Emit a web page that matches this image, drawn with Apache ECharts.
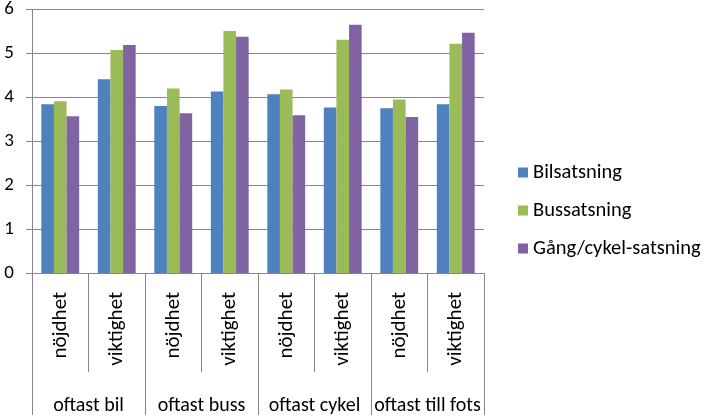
<!DOCTYPE html>
<html>
<head>
<meta charset="utf-8">
<script src="https://cdn.jsdelivr.net/npm/echarts@6/dist/echarts.min.js"></script>
<style>
  html, body { margin: 0; padding: 0; background: #fff; }
  #chart-container { width: 708px; height: 416px; }
</style>
</head>
<body>
<div id="chart-container"></div>
<script>
var subCategories = ["nöjdhet", "viktighet", "nöjdhet", "viktighet", "nöjdhet", "viktighet", "nöjdhet", "viktighet"];
var groups = ["oftast bil", "oftast buss", "oftast cykel", "oftast till fots"];
var seriesNames = ["Bilsatsning", "Bussatsning", "Gång/cykel-satsning"];
var bilsatsning = [3.84, 4.41, 3.80, 4.13, 4.07, 3.77, 3.75, 3.84];
var bussatsning = [3.91, 5.08, 4.20, 5.51, 4.18, 5.31, 3.95, 5.22];
var gangCykel = [3.57, 5.19, 3.64, 5.38, 3.59, 5.65, 3.55, 5.47];
var colors = ["#4F81BD", "#9BBB59", "#8064A2"];

var font = "Carlito, Lato, sans-serif";
var lineColor = "#868686";

var dom = document.getElementById("chart-container");
var myChart = echarts.init(dom, null, { renderer: "canvas" });

var values = [bilsatsning, bussatsning, gangCykel];
var series = seriesNames.map(function (name, i) {
  return {
    name: name,
    type: "bar",
    xAxisIndex: 0,
    data: values[i],
    itemStyle: { color: colors[i] },
    barGap: "0%",
    barCategoryGap: "33%",
  };
});

var option = {
  animation: false,
  textStyle: { fontFamily: font },
  grid: { left: 32, top: 8, right: 224, bottom: 142 },
  legend: {
    orient: "vertical",
    left: 518,
    top: 162,
    padding: 0,
    itemWidth: 10,
    itemHeight: 10,
    itemGap: 17,
    icon: "rect",
    textStyle: { fontFamily: font, fontSize: 20.5, color: "#000" },
    data: seriesNames,
  },
  xAxis: [
    {
      type: "category",
      data: subCategories,
      position: "bottom",
      axisLine: { lineStyle: { color: lineColor } },
      axisTick: { show: true, length: 99, lineStyle: { color: lineColor } },
      axisLabel: {
        rotate: 90,
        interval: 0,
        margin: 19,
        fontSize: 21,
        color: "#000",
        fontFamily: font,
      },
    },
    {
      type: "category",
      data: groups,
      position: "bottom",
      axisLine: { show: false },
      axisTick: { show: true, length: 142, lineStyle: { color: lineColor } },
      axisLabel: {
        interval: 0,
        margin: 123,
        fontSize: 20,
        color: "#000",
        fontFamily: font,
      },
    },
  ],
  yAxis: {
    type: "value",
    min: 0,
    max: 6,
    interval: 1,
    axisLine: { show: true, lineStyle: { color: lineColor } },
    axisTick: { show: true, length: 6, lineStyle: { color: lineColor } },
    splitLine: { lineStyle: { color: lineColor } },
    axisLabel: { margin: 18, fontSize: 19, color: "#000", fontFamily: font },
  },
  series: series,
};

myChart.setOption(option);
window.addEventListener("resize", function () {
  myChart.resize();
});
</script>
</body>
</html>
